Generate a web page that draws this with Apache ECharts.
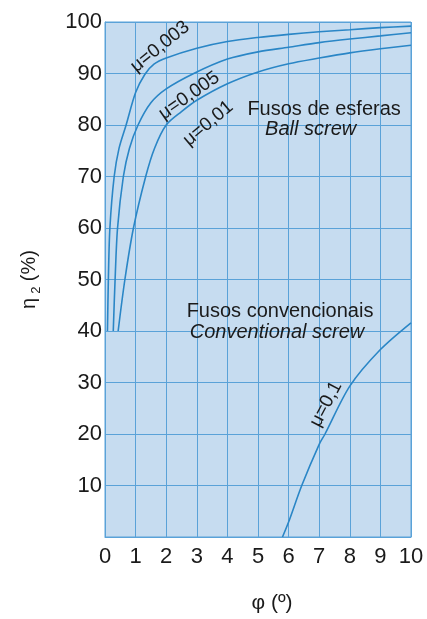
<!DOCTYPE html>
<html><head><meta charset="utf-8">
<script src="https://cdn.jsdelivr.net/npm/echarts@6/dist/echarts.min.js"></script>
<style>html,body{margin:0;padding:0;background:#fff}#c{width:427px;height:619px}</style>
</head><body><div id="c"></div>
<script>
// Data: [phi (deg), efficiency (%)]
const mu0003 = [[0.08,40],[0.11,50],[0.16,60],[0.3,70],[0.46,75.5],[0.69,80],[1,86.3],[1.3,89.8],[1.6,91.8],[2,93],[3,94.9],[4,96.2],[5,97],[6,97.6],[7,98.1],[8,98.5],[9,98.9],[10,99.2]];
const mu0005 = [[0.27,40],[0.33,50],[0.41,60],[0.6,70],[0.8,75.5],[1.08,80],[1.5,84.3],[2,87],[2.9,90],[4,92.8],[5,94.2],[6,95.1],[7,96],[8,96.7],[9,97.3],[10,97.9]];
const mu001  = [[0.43,40],[0.65,50],[0.93,60],[1.33,70],[1.62,75.5],[2,80],[2.5,82.6],[3,84.8],[4,88],[5,90.3],[6,91.9],[7,93],[8,94],[9,94.8],[10,95.5]];
const mu01   = [[5.8,0],[6,2.9],[6.43,10],[7,18],[7.19,20],[8,29.3],[9,36.4],[10,41.6]];
const xTicks = [0,1,2,3,4,5,6,7,8,9,10];
const yTicks = [10,20,30,40,50,60,70,80,90,100];
const curveLabels = [
  {text:'μ=0,003', at:[1.8,95.2], angle:39},
  {text:'μ=0,005', at:[2.75,85.7], angle:35},
  {text:'μ=0,01',  at:[3.37,80.3], angle:40},
  {text:'μ=0,1',   at:[7.22,25.8], angle:62}
];
const notes = [
  {text:'Fusos de esferas', at:[7.16,83.0], italic:false},
  {text:'Ball screw', at:[6.72,79.2], italic:true},
  {text:'Fusos convencionais', at:[5.72,43.8], italic:false},
  {text:'Conventional screw', at:[5.62,39.8], italic:true}
];

const FONT = '"Liberation Sans", Arial, sans-serif';
const GRID = '#5aa2d8';
const LINE = '#2a86c6';
const chart = echarts.init(document.getElementById('c'), null, {renderer:'canvas'});
function ser(d){return {type:'line', data:d, smooth:0.3, showSymbol:false, symbol:'none',
  lineStyle:{color:LINE, width:1.6}, silent:true};}
chart.setOption({
  animation:false,
  textStyle:{fontFamily:FONT},
  grid:{left:105, right:16, top:22, bottom:77, show:true, backgroundColor:'#c6dcf0', borderColor:GRID, borderWidth:1},
  xAxis:{type:'value', min:0, max:10, interval:1,
    axisLine:{show:true, lineStyle:{color:GRID}}, axisTick:{show:false},
    splitLine:{show:true, lineStyle:{color:GRID, width:1}},
    axisLabel:{color:'#1a1a1a', fontSize:22, margin:9, fontFamily:FONT,
      formatter:v=>xTicks.includes(v)?String(v):''},
    name:'φ (º)', nameLocation:'middle', nameGap:56,
    nameTextStyle:{color:'#1a1a1a', fontSize:21, fontFamily:FONT, padding:[0,0,0,28]}},
  yAxis:{type:'value', min:0, max:100, interval:10,
    axisLine:{show:true, lineStyle:{color:GRID}}, axisTick:{show:false},
    splitLine:{show:true, lineStyle:{color:GRID, width:1}},
    axisLabel:{color:'#1a1a1a', fontSize:22, margin:3, fontFamily:FONT,
      formatter:v=>yTicks.includes(v)?String(v):''},
    name:'{a|η}{b|2} {a|(%)}', nameLocation:'middle', nameGap:62, nameRotate:90,
    nameTextStyle:{color:'#1a1a1a', fontFamily:FONT,
      rich:{a:{fontSize:20, lineHeight:28, verticalAlign:'middle', fontFamily:FONT, color:'#1a1a1a'},
            b:{fontSize:13, lineHeight:28, verticalAlign:'bottom', padding:[0,2,0,4], fontFamily:FONT, color:'#1a1a1a'}}}},
  series:[ser(mu0003), ser(mu0005), ser(mu001), ser(mu01)]
});
const els = [];
curveLabels.forEach(l=>{
  const p = chart.convertToPixel({gridIndex:0}, l.at);
  els.push({type:'text', x:p[0], y:p[1], rotation:l.angle*Math.PI/180,
    style:{text:l.text, fill:'#1a1a1a', font:'19px '+FONT, align:'center', verticalAlign:'middle'}});
});
notes.forEach(n=>{
  const p = chart.convertToPixel({gridIndex:0}, n.at);
  els.push({type:'text', x:p[0], y:p[1],
    style:{text:n.text, fill:'#1a1a1a', font:(n.italic?'italic ':'')+'20px '+FONT, align:'center', verticalAlign:'middle'}});
});
chart.setOption({graphic:{elements:els}});
</script></body></html>
